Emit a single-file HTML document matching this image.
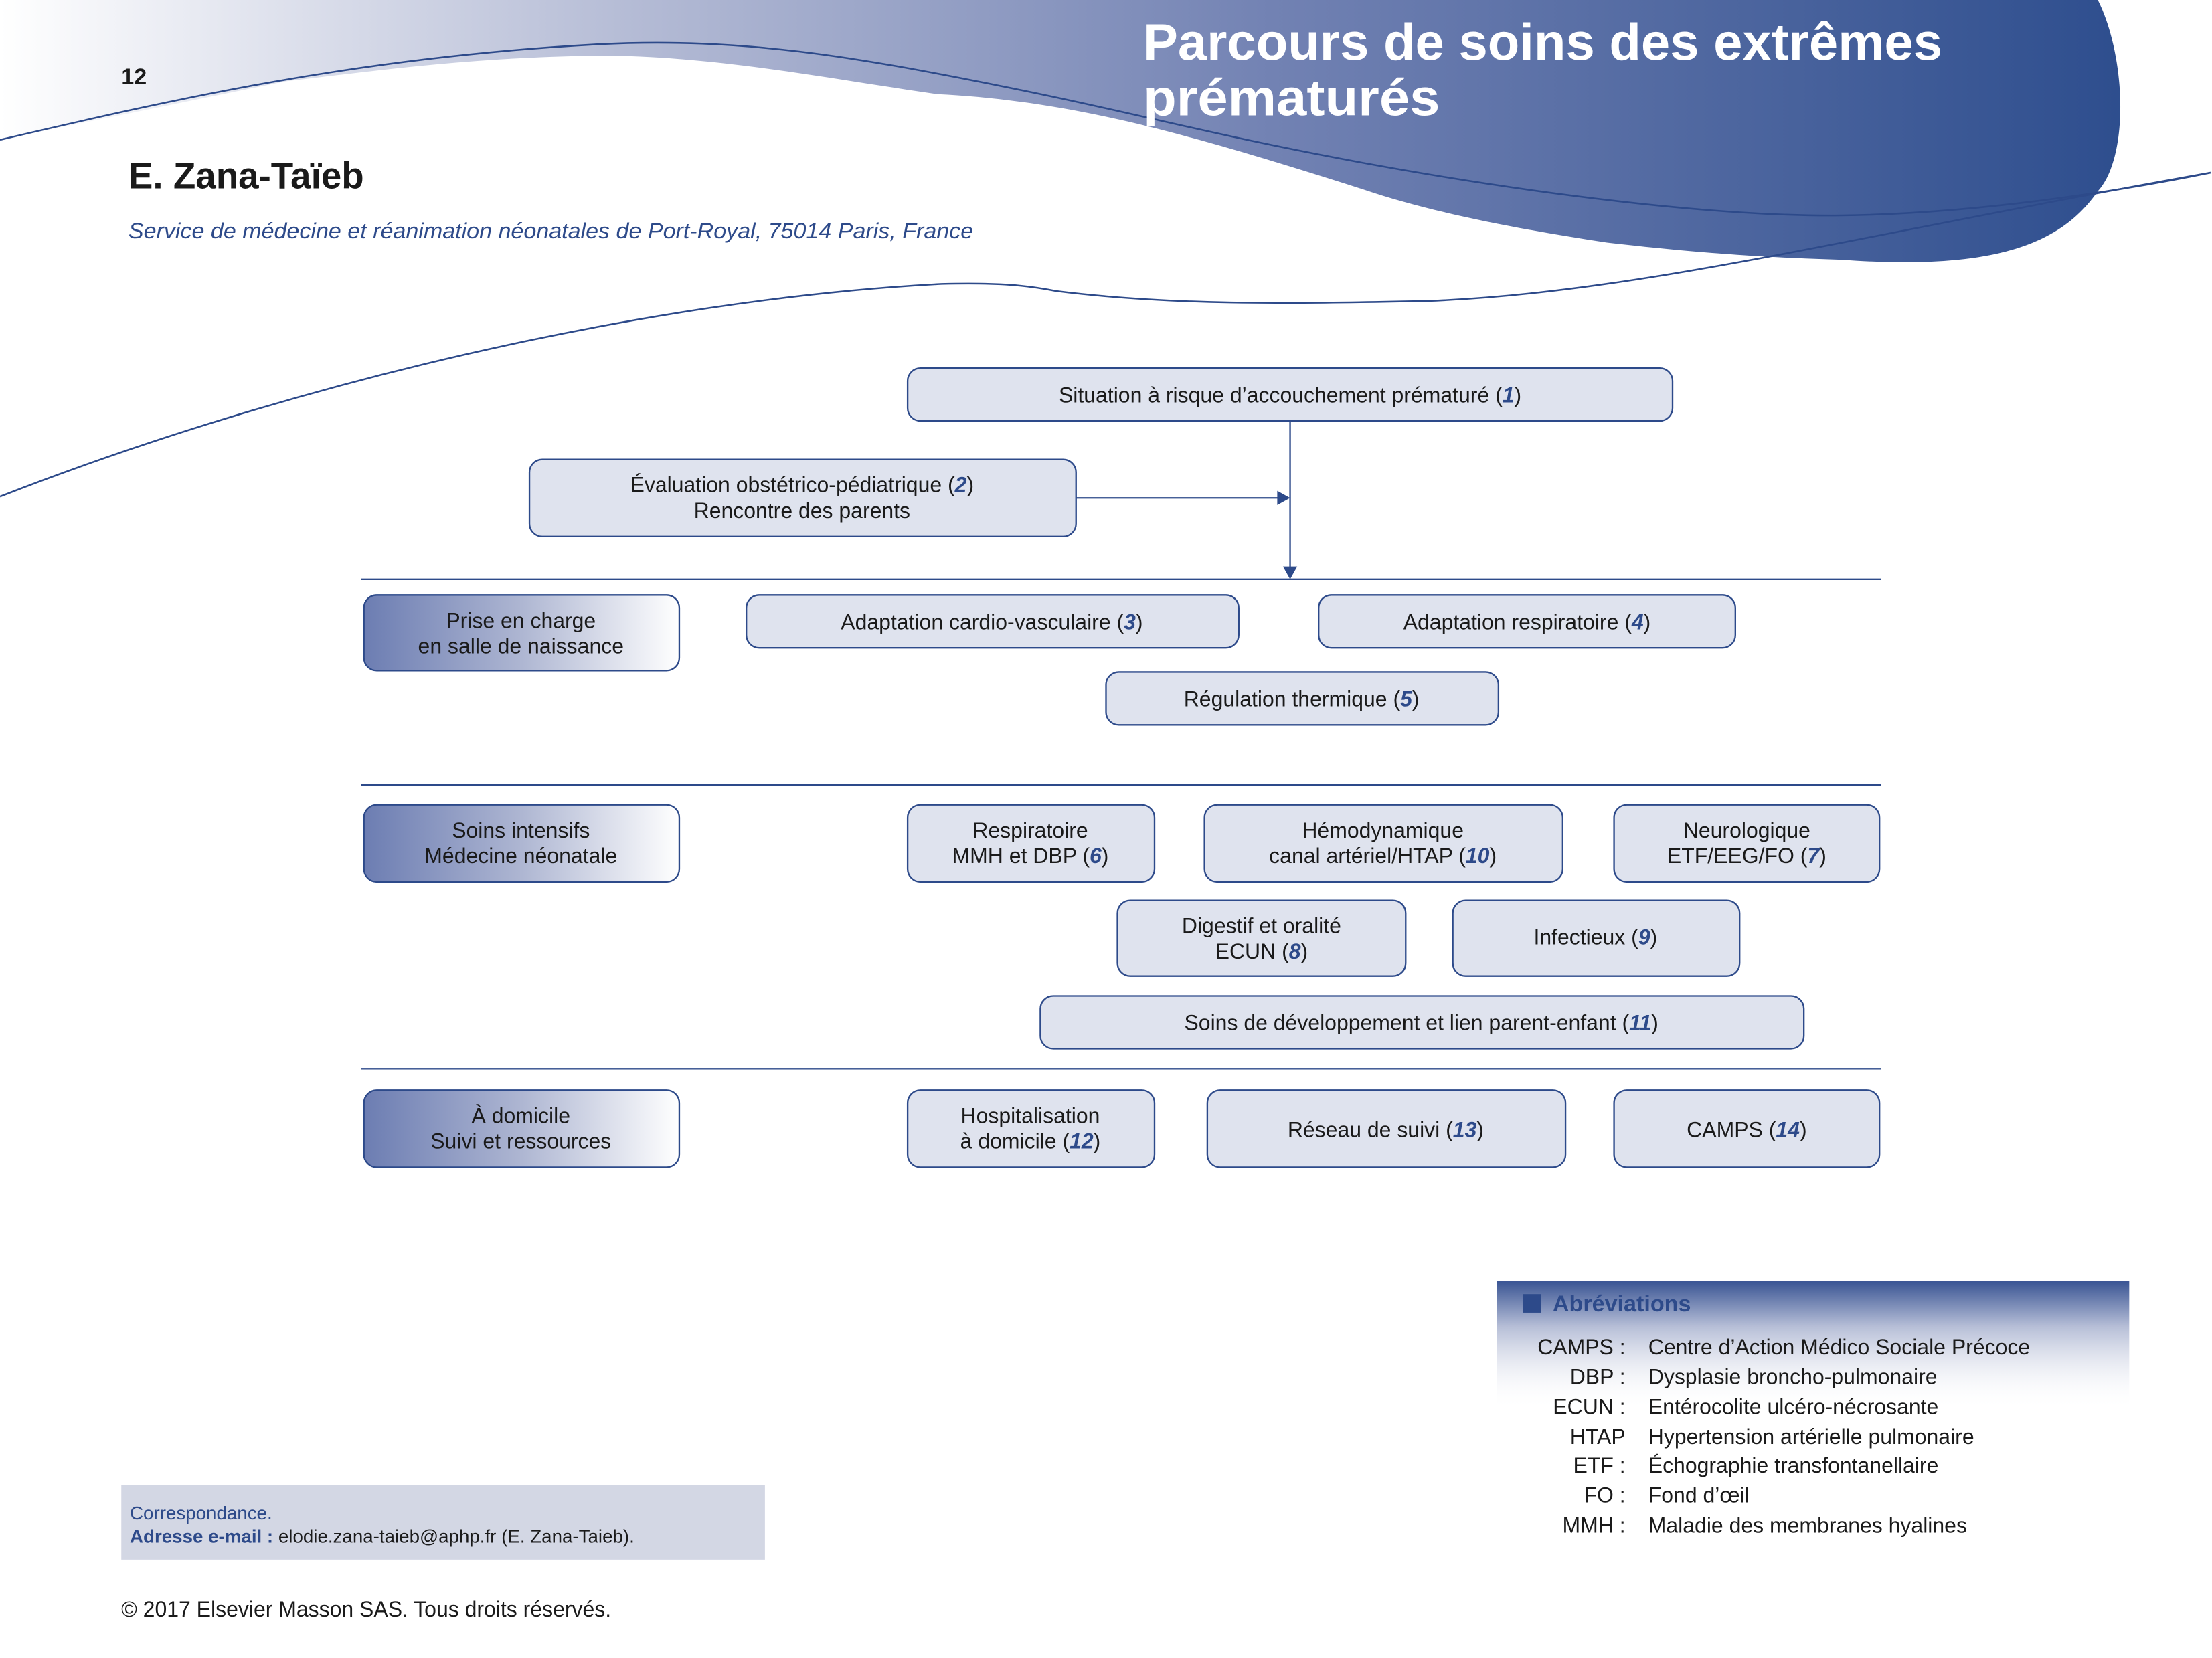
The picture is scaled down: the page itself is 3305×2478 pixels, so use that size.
<!DOCTYPE html>
<html><head><meta charset="utf-8"><style>
html,body{margin:0;padding:0;background:#fff}
svg{display:block}
text{font-family:"Liberation Sans",sans-serif}
.b{fill:#dfe3ee;stroke:#2d4a8a;stroke-width:1.1}
.g{fill:url(#cat);stroke:#2d4a8a;stroke-width:1.1}
.t{font-size:15px;fill:#1a1a1a;text-anchor:middle}
.n{fill:#2d4a8a;font-style:italic;font-weight:bold}
.l{stroke:#2d4a8a;stroke-width:1.1}
.ab{font-size:15px;fill:#1a1a1a}
</style></head><body>
<svg width="3305" height="2478" viewBox="0 0 1550 1162" preserveAspectRatio="none" xmlns="http://www.w3.org/2000/svg">
<defs>
<linearGradient id="hdr" x1="0" y1="0" x2="1" y2="0">
<stop offset="0" stop-color="#ffffff"/><stop offset="0.3" stop-color="#b4bbd5"/><stop offset="0.6" stop-color="#7282b3"/><stop offset="1" stop-color="#2e4e8e"/></linearGradient>
<linearGradient id="cat" x1="0" y1="0" x2="1" y2="0">
<stop offset="0" stop-color="#6c7db2"/><stop offset="0.5" stop-color="#aeb6d2"/><stop offset="1" stop-color="#ffffff"/></linearGradient>
<linearGradient id="abg" x1="0" y1="0" x2="0" y2="1">
<stop offset="0" stop-color="#3a5594"/><stop offset="0.35" stop-color="#b5bdd6"/><stop offset="1" stop-color="#ffffff" stop-opacity="0"/></linearGradient>
</defs>
<!-- header band -->
<path d="M0,0 L1470,0 C1490,40 1492,110 1470,134 C1445,170 1400,190 1290,182 C1220,180 1170,175 1126,170 C1060,160 1000,148 956,133 C900,115 850,100 806,89 C750,75 700,68 657,66 C580,55 500,39 420,39 C330,40 260,50 200,57 L0,98 Z" fill="url(#hdr)"/>
<path d="M0,98 C120,70 250,40 420,31 C520,26 600,40 700,60 S850,95 960,115 S1200,152 1290,151 S1480,135 1549,121" fill="none" stroke="#2d4a8a" stroke-width="1.2"/>
<path d="M0,348 C200,270 450,210 660,199 C700,198 720,200 740,204 C820,214 900,213 1000,211 C1150,205 1300,165 1549,121" fill="none" stroke="#2d4a8a" stroke-width="1.2"/>
<text x="801" y="42" style="font-size:36px;font-weight:bold;fill:#fff" textLength="560" lengthAdjust="spacingAndGlyphs">Parcours de soins des extrêmes</text>
<text x="801" y="81" style="font-size:36px;font-weight:bold;fill:#fff" textLength="208" lengthAdjust="spacingAndGlyphs">prématurés</text>
<text x="85" y="59" style="font-size:16px;font-weight:bold;fill:#1a1a1a">12</text>
<text x="90" y="132" style="font-size:26px;font-weight:bold;fill:#1a1a1a" textLength="165" lengthAdjust="spacingAndGlyphs">E. Zana-Taïeb</text>
<text x="90" y="167" style="font-size:15px;font-style:italic;fill:#2d4a8a" textLength="592" lengthAdjust="spacingAndGlyphs">Service de médecine et réanimation néonatales de Port-Royal, 75014 Paris, France</text>

<!-- connectors -->
<line class="l" x1="904" y1="295" x2="904" y2="398"/>
<polygon points="899,397 909,397 904,406" fill="#2d4a8a"/>
<line class="l" x1="754" y1="349" x2="896" y2="349"/>
<polygon points="895,344 895,354 904,349" fill="#2d4a8a"/>
<line class="l" x1="253" y1="406" x2="1318" y2="406"/>
<line class="l" x1="253" y1="550" x2="1318" y2="550"/>
<line class="l" x1="253" y1="749" x2="1318" y2="749"/>

<!-- boxes -->
<rect class="b" x="636" y="258" width="536" height="37" rx="9"/>
<text class="t" x="904" y="282">Situation à risque d’accouchement prématuré (<tspan class="n">1</tspan>)</text>
<rect class="b" x="371" y="322" width="383" height="54" rx="9"/>
<text class="t" x="562" y="345">Évaluation obstétrico-pédiatrique (<tspan class="n">2</tspan>)</text>
<text class="t" x="562" y="363">Rencontre des parents</text>

<rect class="g" x="255" y="417" width="221" height="53" rx="9"/>
<text class="t" x="365" y="440">Prise en charge</text><text class="t" x="365" y="458">en salle de naissance</text>
<rect class="b" x="523" y="417" width="345" height="37" rx="9"/>
<text class="t" x="695" y="441">Adaptation cardio-vasculaire (<tspan class="n">3</tspan>)</text>
<rect class="b" x="924" y="417" width="292" height="37" rx="9"/>
<text class="t" x="1070" y="441">Adaptation respiratoire (<tspan class="n">4</tspan>)</text>
<rect class="b" x="775" y="471" width="275" height="37" rx="9"/>
<text class="t" x="912" y="495">Régulation thermique (<tspan class="n">5</tspan>)</text>

<rect class="g" x="255" y="564" width="221" height="54" rx="9"/>
<text class="t" x="365" y="587">Soins intensifs</text><text class="t" x="365" y="605">Médecine néonatale</text>
<rect class="b" x="636" y="564" width="173" height="54" rx="9"/>
<text class="t" x="722" y="587">Respiratoire</text><text class="t" x="722" y="605">MMH et DBP (<tspan class="n">6</tspan>)</text>
<rect class="b" x="844" y="564" width="251" height="54" rx="9"/>
<text class="t" x="969" y="587">Hémodynamique</text><text class="t" x="969" y="605">canal artériel/HTAP (<tspan class="n">10</tspan>)</text>
<rect class="b" x="1131" y="564" width="186" height="54" rx="9"/>
<text class="t" x="1224" y="587">Neurologique</text><text class="t" x="1224" y="605">ETF/EEG/FO (<tspan class="n">7</tspan>)</text>
<rect class="b" x="783" y="631" width="202" height="53" rx="9"/>
<text class="t" x="884" y="654">Digestif et oralité</text><text class="t" x="884" y="672">ECUN (<tspan class="n">8</tspan>)</text>
<rect class="b" x="1018" y="631" width="201" height="53" rx="9"/>
<text class="t" x="1118" y="662">Infectieux (<tspan class="n">9</tspan>)</text>
<rect class="b" x="729" y="698" width="535" height="37" rx="9"/>
<text class="t" x="996" y="722">Soins de développement et lien parent-enfant (<tspan class="n">11</tspan>)</text>

<rect class="g" x="255" y="764" width="221" height="54" rx="9"/>
<text class="t" x="365" y="787">À domicile</text><text class="t" x="365" y="805">Suivi et ressources</text>
<rect class="b" x="636" y="764" width="173" height="54" rx="9"/>
<text class="t" x="722" y="787">Hospitalisation</text><text class="t" x="722" y="805">à domicile (<tspan class="n">12</tspan>)</text>
<rect class="b" x="846" y="764" width="251" height="54" rx="9"/>
<text class="t" x="971" y="797">Réseau de suivi (<tspan class="n">13</tspan>)</text>
<rect class="b" x="1131" y="764" width="186" height="54" rx="9"/>
<text class="t" x="1224" y="797">CAMPS (<tspan class="n">14</tspan>)</text>

<!-- abbreviations -->
<rect x="1049" y="898" width="443" height="90" fill="url(#abg)"/>
<rect x="1067" y="907" width="13" height="13" fill="#2d4a8a"/>
<text x="1088" y="919" style="font-size:16px;font-weight:bold;fill:#2d4a8a">Abréviations</text>
<g class="ab">
<text x="1139" y="949" text-anchor="end">CAMPS :</text><text x="1155" y="949">Centre d’Action Médico Sociale Précoce</text>
<text x="1139" y="970" text-anchor="end">DBP :</text><text x="1155" y="970">Dysplasie broncho-pulmonaire</text>
<text x="1139" y="991" text-anchor="end">ECUN :</text><text x="1155" y="991">Entérocolite ulcéro-nécrosante</text>
<text x="1139" y="1012" text-anchor="end">HTAP</text><text x="1155" y="1012">Hypertension artérielle pulmonaire</text>
<text x="1139" y="1032" text-anchor="end">ETF :</text><text x="1155" y="1032">Échographie transfontanellaire</text>
<text x="1139" y="1053" text-anchor="end">FO :</text><text x="1155" y="1053">Fond d’œil</text>
<text x="1139" y="1074" text-anchor="end">MMH :</text><text x="1155" y="1074">Maladie des membranes hyalines</text>
</g>

<!-- correspondence -->
<rect x="85" y="1041" width="451" height="52" fill="#d3d7e4"/>
<text x="91" y="1065" style="font-size:13px;fill:#2d4a8a">Correspondance.</text>
<text x="91" y="1081" style="font-size:13px;fill:#1a1a1a"><tspan style="font-weight:bold;fill:#2d4a8a">Adresse e-mail :</tspan> elodie.zana-taieb@aphp.fr (E. Zana-Taieb).</text>
<text x="85" y="1133" style="font-size:15px;fill:#1a1a1a">© 2017 Elsevier Masson SAS. Tous droits réservés.</text>
</svg>
</body></html>
